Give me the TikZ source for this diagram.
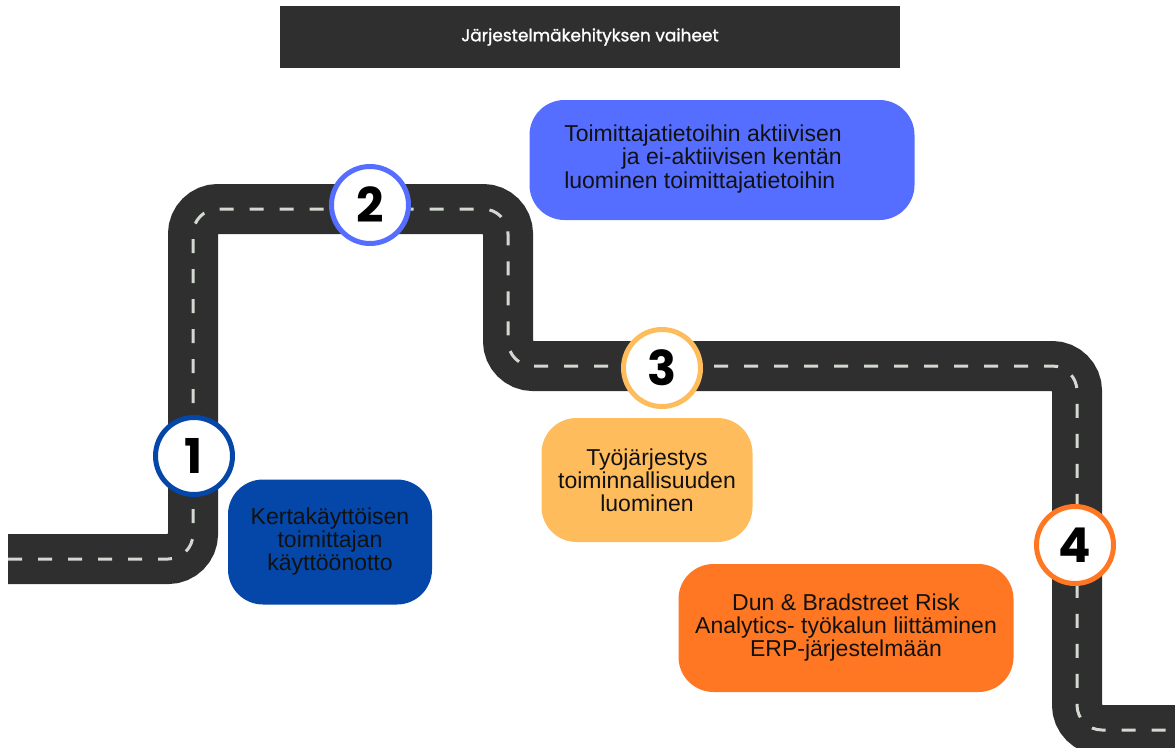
\documentclass[tikz,border=0pt]{standalone}
\usepackage{fontspec}
\setmainfont{Liberation Sans}
\newfontfamily\popfont{Poppins}
\newfontfamily\poptitle[FakeBold=1.2]{Poppins}
\usetikzlibrary{positioning}
\definecolor{roadgray}{HTML}{2F2F2F}
\definecolor{lanegray}{HTML}{D3D8D0}
\definecolor{textdark}{HTML}{111111}
\definecolor{navyblue}{HTML}{0447A8}
\definecolor{brightblue}{HTML}{556EFF}
\definecolor{lightorange}{HTML}{FFBC5C}
\definecolor{deeporange}{HTML}{FF7722}
\begin{document}
\begin{tikzpicture}[x=1pt,y=-1pt,
	road/.style={line width=50pt,color=roadgray,rounded corners=25pt},
	lane/.style={line width=3pt,color=lanegray,dash pattern=on 14pt off 16pt,rounded corners=25pt},
	stepnum/.style={circle,fill=white,line width=5pt,minimum size=77pt,inner sep=0pt,
		font=\popfont\bfseries\fontsize{48}{48}\selectfont},
	stepbox/.style={rounded corners=35pt,inner sep=0pt,text=textdark,
		font=\fontsize{23}{23}\selectfont,align=center}]
	%%Frame
	\useasboundingbox (0,0) rectangle (1175,747);
	\clip (0,0) rectangle (1175,747);
	%%Title
	\node[fill=roadgray,minimum width=620pt,minimum height=62pt,inner sep=0pt,
		text=white,font=\poptitle\fontsize{17}{17}\selectfont] (title) at (590,37) {Järjestelmäkehityksen vaiheet};
	%%Road
	\coordinate (r0) at (8,559);
	\coordinate (r1) at (193,559);
	\coordinate (r2) at (193,209);
	\coordinate (r3) at (508,209);
	\coordinate (r4) at (508,366);
	\coordinate (r5) at (1077,366);
	\coordinate (r6) at (1077,730);
	\coordinate (r7) at (1200,730);
	\draw[road] (r0) -- (r1) -- (r2) -- (r3) -- (r4) -- (r5) -- (r6) -- (r7);
	\draw[lane] (r0) -- (r1) -- (r2) -- (r3) -- (r4) -- (r5) -- (r6) -- (r7);
	%%Steps
	\node[stepnum,draw=navyblue] (s1) at (194,456) {1};
	\node[stepnum,draw=brightblue] (s2) at (370,205) {2};
	\node[stepnum,draw=lightorange] (s3) at (662,368) {3};
	\node[stepnum,draw=deeporange] (s4) at (1075,545) {4};
	%%Boxes
	\node[stepbox,fill=navyblue,minimum width=204pt,minimum height=125pt] (b1) at (330,542)
		{Kertakäyttöisen\\toimittajan\\käyttöönotto};
	\node[stepbox,fill=brightblue,minimum width=385pt,minimum height=120pt] (b2) at (722,160)
		{\begin{tabular}{@{}l@{}}Toimittajatietoihin aktiivisen\\
		\multicolumn{1}{@{}r@{}}{ja ei-aktiivisen kentän}\\
		luominen toimittajatietoihin\end{tabular}\hspace*{38pt}};
	\node[stepbox,fill=lightorange,minimum width=211pt,minimum height=124pt] (b3) at (647,480)
		{Työjärjestys\\toiminnallisuuden\\luominen};
	\node[stepbox,fill=deeporange,minimum width=335pt,minimum height=128pt] (b4) at (846,628)
		{Dun \& Bradstreet Risk\\Analytics- työkalun liittäminen\\ERP-järjestelmään};
\end{tikzpicture}
\end{document}
